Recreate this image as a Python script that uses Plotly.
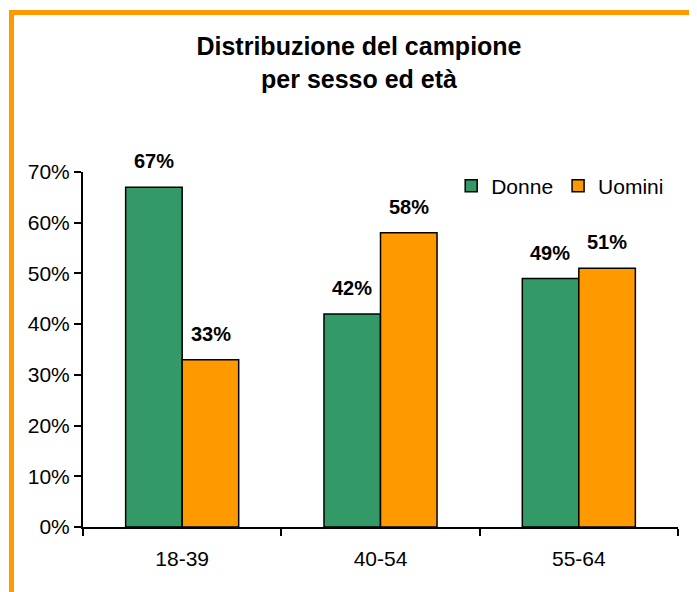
import plotly.graph_objects as go

fasce = ["18-39", "40-54", "55-64"]
donne = [67, 42, 49]
uomini = [33, 58, 51]

verde = "#339966"
arancio = "#FF9900"
font_fam = "Liberation Sans, Arial, sans-serif"

# la pagina ha un margine di 8px: la figura e' un po' piu' piccola della finestra
W, H = 689, 584
L, T, PW, PH = 75, 164, 595, 355

fig = go.Figure()
fig.add_trace(go.Bar(x=fasce, y=donne, name="Donne",
                     marker=dict(color=verde, line=dict(color="black", width=1.5))))
fig.add_trace(go.Bar(x=fasce, y=uomini, name="Uomini",
                     marker=dict(color=arancio, line=dict(color="black", width=1.5))))

# etichette sopra le barre
for serie, shift in [(donne, -28.5), (uomini, 28.5)]:
    for cat, val in zip(fasce, serie):
        fig.add_annotation(x=cat, y=val, text=f"<b>{val}%</b>", showarrow=False,
                           xshift=shift, yshift=13, yanchor="bottom",
                           font=dict(size=20, color="black", family=font_fam))

# cornice arancione
fig.add_shape(type="rect", xref="paper", yref="paper",
              x0=(3.5 - L) / PW, x1=1.3, y0=-0.5, y1=1 + (T - 4.5) / PH,
              line=dict(color=arancio, width=5), layer="below")

fig.update_layout(
    width=W, height=H,
    margin=dict(l=L, r=W - L - PW, t=T, b=H - T - PH),
    paper_bgcolor="white", plot_bgcolor="white",
    font=dict(family=font_fam, size=21, color="black"),
    title=dict(text="<b>Distribuzione del campione<br>per sesso ed età</b>",
               x=351 / W, xanchor="center", xref="container",
               y=1 - 47 / H, yanchor="top", yref="container",
               font=dict(size=25, color="black", family=font_fam)),
    barmode="group", bargap=0.43, bargroupgap=0,
    showlegend=True,
    legend=dict(orientation="h", x=0.802, xanchor="center",
                y=1 - 14 / PH, yanchor="middle",
                font=dict(size=21), itemwidth=30, bgcolor="rgba(0,0,0,0)"),
)
fig.update_xaxes(range=[-0.5, 2.5], showline=True, linecolor="black", linewidth=2,
                 ticks="outside", tickson="boundaries", ticklen=7, tickwidth=2,
                 tickcolor="black", showgrid=False, ticklabelstandoff=12)
fig.update_yaxes(range=[0, 70], dtick=10, ticksuffix="%", showline=True,
                 linecolor="black", linewidth=2, ticks="outside", ticklen=7,
                 tickwidth=2, tickcolor="black", showgrid=False, zeroline=False)

fig.write_html("out.html")
